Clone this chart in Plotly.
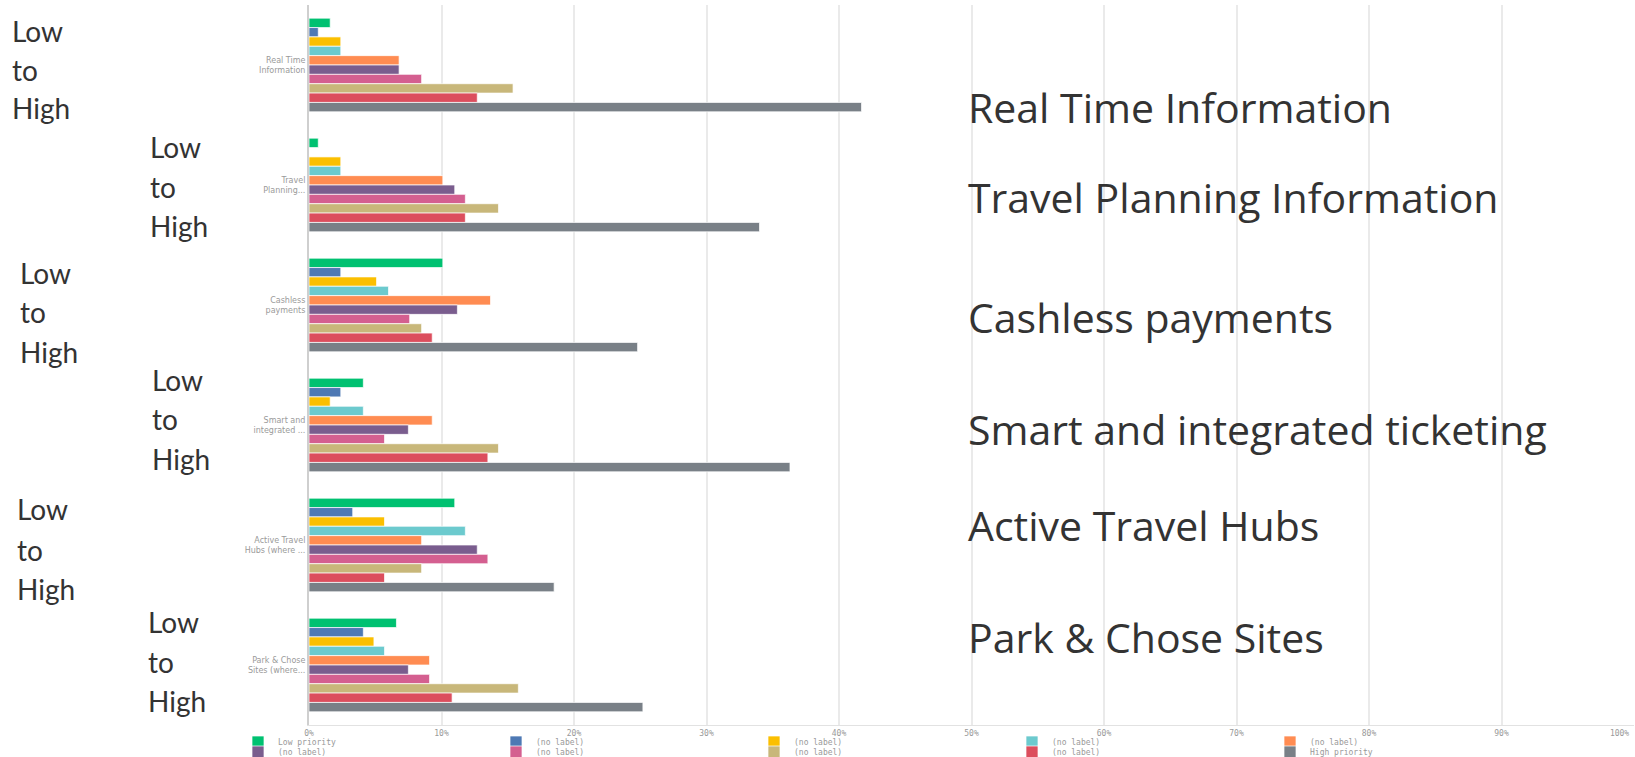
import plotly.graph_objects as go

# ---------------- data ----------------
categories = ["Real Time Information", "Travel Planning Information", "Cashless payments",
              "Smart and integrated ticketing", "Active Travel Hubs", "Park & Chose Sites"]
tick_labels = ["Real Time<br>Information", "Travel<br>Planning...", "Cashless<br>payments",
               "Smart and<br>integrated ...", "Active Travel<br>Hubs (where ...", "Park & Chose<br>Sites (where..."]
series_names = ["Low priority", "(no label)", "(no label)", "(no label)", "(no label)",
                "(no label)", "(no label)", "(no label)", "(no label)", "High priority"]
low_priority = [1.6, 0.7, 10.1, 4.1, 11.0, 6.6]
no_label_1 = [0.7, 0.0, 2.4, 2.4, 3.3, 4.1]
no_label_2 = [2.4, 2.4, 5.1, 1.6, 5.7, 4.9]
no_label_3 = [2.4, 2.4, 6.0, 4.1, 11.8, 5.7]
no_label_4 = [6.8, 10.1, 13.7, 9.3, 8.5, 9.1]
no_label_5 = [6.8, 11.0, 11.2, 7.5, 12.7, 7.5]
no_label_6 = [8.5, 11.8, 7.6, 5.7, 13.5, 9.1]
no_label_7 = [15.4, 14.3, 8.5, 14.3, 8.5, 15.8]
no_label_8 = [12.7, 11.8, 9.3, 13.5, 5.7, 10.8]
high_priority = [41.7, 34.0, 24.8, 36.3, 18.5, 25.2]
series_values = [low_priority, no_label_1, no_label_2, no_label_3, no_label_4,
                 no_label_5, no_label_6, no_label_7, no_label_8, high_priority]
colors = ["#00C171", "#4E79B4", "#FBBF00", "#6CCACE", "#FF8C52",
          "#7A5D8E", "#D45F90", "#C8B77A", "#DC4E5D", "#798087"]
x_ticks = [0, 10, 20, 30, 40, 50, 60, 70, 80, 90, 100]
x_tick_labels = ["0%", "10%", "20%", "30%", "40%", "50%", "60%", "70%", "80%", "90%", "100%"]
scale_words = ["Low", "to", "High"]

# ---------------- layout constants ----------------
W, H = 1635, 757
ML, MR, MT, MB = 309, 1, 5, 32
PW, PH = W - ML - MR, H - MT - MB


def px_x(px):
    return (px - ML) / PW


def px_y(py):
    return (H - MB - py) / PH


# last tick label padded so it stays inside the page (as in the reference)
shown_x_labels = x_tick_labels[:-1] + [x_tick_labels[-1] + "\u00a0" * 6]

fig = go.Figure()
for i, (name, vals, col) in enumerate(zip(series_names, series_values, colors)):
    fig.add_trace(go.Bar(
        y=categories, x=vals, name=name, orientation="h",
        marker=dict(color=col, line=dict(color="rgba(255,255,255,0.7)", width=1)),
        legend="legend" if i < 5 else "legend2",
    ))

annotations = []
# "Low / to / High" stacks (left x, word centers in px)
stacks = [
    (12, [31, 70, 108]),
    (150, [147, 187, 226]),
    (20, [273, 312, 352]),
    (152, [380, 419, 459]),
    (17, [509, 550, 589]),
    (148, [622, 662, 701]),
]
for lx, ys in stacks:
    for word, yy in zip(scale_words, ys):
        annotations.append(dict(
            text=word, xref="paper", yref="paper", x=px_x(lx - 2), y=px_y(yy),
            xanchor="left", yanchor="middle", showarrow=False,
            font=dict(family="Lato", size=28, color="#333333")))

right_y = [107, 197, 317, 429, 525, 637]
for cat, yy in zip(categories, right_y):
    annotations.append(dict(
        text=cat, xref="paper", yref="paper", x=px_x(966), y=px_y(yy),
        xanchor="left", yanchor="middle", showarrow=False,
        font=dict(family="Open Sans", size=41, color="#333333")))

legend_common = dict(
    orientation="h", xanchor="left", yanchor="middle",
    font=dict(family="DejaVu Sans Mono", size=8, color="#999999"),
    entrywidthmode="pixels", entrywidth=213, bgcolor="rgba(0,0,0,0)",
    itemclick=False, itemdoubleclick=False,
)

fig.update_layout(
    width=W, height=H,
    margin=dict(l=ML, r=MR, t=MT, b=MB, autoexpand=False),
    paper_bgcolor="white", plot_bgcolor="white",
    barmode="group", bargap=0.22, bargroupgap=0.0,
    font=dict(family="DejaVu Sans", color="#888888"),
    xaxis=dict(range=[0, 100], tickvals=x_ticks, ticktext=shown_x_labels,
               showgrid=True, gridcolor="#EAEAEA", gridwidth=2,
               showline=True, linecolor="#E2E2E2", linewidth=1,
               zeroline=False, ticks="", ticklen=0, ticklabeloverflow="allow",
               tickfont=dict(family="DejaVu Sans Mono", size=8, color="#999999"),
               fixedrange=True, automargin=False),
    yaxis=dict(categoryorder="array", categoryarray=categories, autorange="reversed",
               tickvals=categories, ticktext=tick_labels,
               showline=True, linecolor="#CFCFCF", linewidth=2,
               showgrid=False, ticks="",
               tickfont=dict(family="DejaVu Sans", size=8, color="#9A9A9A"),
               fixedrange=True, automargin=False),
    legend=dict(x=px_x(238), y=px_y(742), **legend_common),
    legend2=dict(x=px_x(238), y=px_y(752), **legend_common),
    annotations=annotations,
    showlegend=True,
)

fig.write_html("out.html", config={"displayModeBar": False})
